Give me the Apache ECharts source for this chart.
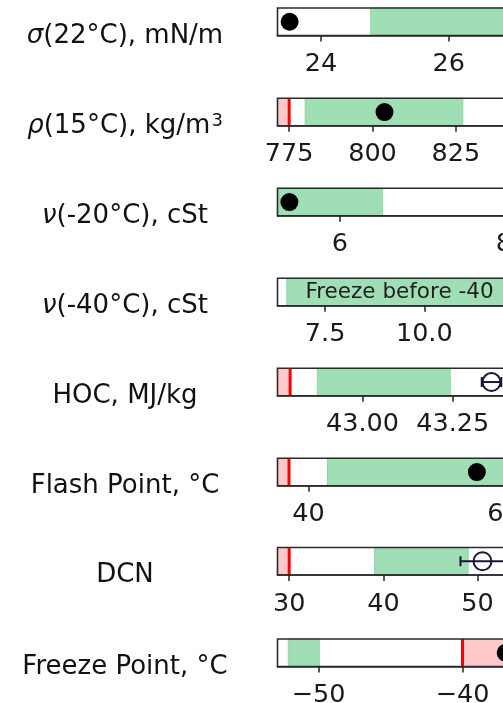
<!DOCTYPE html>
<html><head><meta charset="utf-8">
<script src="https://cdn.jsdelivr.net/npm/echarts@6/dist/echarts.min.js"></script>
<style>html,body{margin:0;padding:0;background:#fff}#c{width:503px;height:703px}</style>
</head><body><div id="c"></div>
<script>
// ---- data ----
const rowLabels = ['{i|σ}(22°C), mN/m', '{i|ρ}(15°C), kg/m{s|3}', '{i|ν}(-20°C), cSt', '{i|ν}(-40°C), cSt',
  'HOC, MJ/kg', 'Flash Point, °C', 'DCN', 'Freeze Point, °C'];
const axisMin = [23.32, 771.5, 5.24, 6.30, 42.765, 36.82, 28.76, -52.85];
const axisMax = [27.14, 844.7, 8.216, 12.45, 43.44, 61.85, 54.66, -35.9];
const tickValues = [[24, 26], [775, 800, 825], [6, 8], [7.5, 10], [43.0, 43.25], [40, 60], [30, 40, 50], [-50, -40]];
const tickDecimals = [0, 0, 0, 1, 2, 0, 0, 0];
const greenRanges = [[24.78, 27.14], [779.8, 827.1], [5.24, 6.52], [6.535, 12.45], [42.875, 43.243], [41.95, 61.85], [39.07, 49.0], [-52.1, -49.95]];
const pinkRanges = [null, [771.5, 775], null, null, [42.765, 42.8], [36.82, 38], [28.76, 30], [-40, -35.9]];
const redLimits = [null, 775, null, null, 42.8, 38, 30, -40];
const filledPoints = [23.51, 803.6, 5.385, null, null, 57.27, null, -37.0];
const openPoints = [null, null, null, null, 43.357, null, 50.52, null];
const errLow = [null, null, null, null, 43.33, null, 48.18, null];
const errHigh = [null, null, null, null, 43.384, null, 52.86, null];
const overlayText = [null, null, null, 'Freeze before -40', null, null, null, null];

// ---- layout ----
const gridTops = [8, 98.3, 188.3, 278.3, 368.3, 458.3, 547.5, 639];
const GRID_LEFT = 277.5, GRID_W = 244, GRID_H = 27.5;
const FONT = 'DejaVu Sans';
const GREEN = '#a0deb6', PINK = '#ffc9c9', RED = '#ff0000', NAVY = '#16163c';

const grids = [], xAxes = [], yAxes = [], series = [], graphics = [];

function regionItem(fill, stroke) {
  return function (params, api) {
    const cs = params.coordSys;
    const a = api.coord([api.value(0), 0])[0], b = api.coord([api.value(1), 0])[0];
    const x0 = Math.max(Math.min(a, b), cs.x), x1 = Math.min(Math.max(a, b), cs.x + cs.width);
    if (x1 <= x0) return null;
    return { type: 'rect', shape: { x: x0, y: cs.y, width: x1 - x0, height: cs.height },
      style: { fill: fill, stroke: stroke, lineWidth: stroke ? 1 : 0 } };
  };
}

for (let i = 0; i < 8; i++) {
  grids.push({ left: GRID_LEFT, top: gridTops[i], width: GRID_W, height: GRID_H, show: true,
    containLabel: false, outerBoundsMode: 'none',
    borderColor: '#2b2b2b', borderWidth: 1.6, backgroundColor: 'transparent', z: 10 });
  const dec = tickDecimals[i];
  xAxes.push({ type: 'value', gridIndex: i, min: axisMin[i], max: axisMax[i], position: 'bottom', z: 11,
    axisLine: { show: true, onZero: false, lineStyle: { color: '#2b2b2b', width: 1.6 } }, splitLine: { show: false },
    axisTick: { show: true, inside: false, customValues: tickValues[i], length: 6, lineStyle: { color: '#222', width: 1.5 } },
    axisLabel: { show: true, customValues: tickValues[i], margin: 16, fontSize: 25.5, fontFamily: FONT, color: '#1a1a1a',
      formatter: v => Number(v).toFixed(dec).replace('-', '\u2212') } });
  yAxes.push({ type: 'value', gridIndex: i, min: -1, max: 1, show: false });

  if (pinkRanges[i]) series.push({ type: 'custom', xAxisIndex: i, yAxisIndex: i, renderItem: regionItem(PINK, null),
    data: [pinkRanges[i]], silent: true });
  if (greenRanges[i]) series.push({ type: 'custom', xAxisIndex: i, yAxisIndex: i, renderItem: regionItem(GREEN, '#92d6aa'),
    data: [greenRanges[i]], silent: true });
  if (redLimits[i] !== null) series.push({ type: 'custom', xAxisIndex: i, yAxisIndex: i, silent: true,
    data: [[redLimits[i]]],
    renderItem: function (params, api) {
      const cs = params.coordSys; const x = api.coord([api.value(0), 0])[0];
      return { type: 'line', shape: { x1: x, y1: cs.y, x2: x, y2: cs.y + cs.height }, style: { stroke: RED, lineWidth: 3 } };
    } });
  if (errLow[i] !== null) series.push({ type: 'custom', xAxisIndex: i, yAxisIndex: i, silent: true,
    data: [[errLow[i], errHigh[i]]],
    renderItem: function (params, api) {
      const p0 = api.coord([api.value(0), 0]), p1 = api.coord([api.value(1), 0]);
      const st = { stroke: NAVY, lineWidth: 2 };
      return { type: 'group', children: [
        { type: 'line', shape: { x1: p0[0], y1: p0[1], x2: p1[0], y2: p1[1] }, style: st },
        { type: 'line', shape: { x1: p0[0], y1: p0[1] - 5, x2: p0[0], y2: p0[1] + 5 }, style: st },
        { type: 'line', shape: { x1: p1[0], y1: p1[1] - 5, x2: p1[0], y2: p1[1] + 5 }, style: st }
      ] };
    } });
  if (filledPoints[i] !== null) series.push({ type: 'scatter', xAxisIndex: i, yAxisIndex: i, silent: true,
    symbol: 'circle', symbolSize: 18, itemStyle: { color: '#000', opacity: 1 }, data: [[filledPoints[i], 0]] });
  if (openPoints[i] !== null) series.push({ type: 'scatter', xAxisIndex: i, yAxisIndex: i, silent: true,
    symbol: 'circle', symbolSize: 18, itemStyle: { color: 'rgba(0,0,0,0)', borderColor: NAVY, borderWidth: 2, opacity: 1 },
    data: [[openPoints[i], 0]] });

  graphics.push({ type: 'text', x: 125, y: gridTops[i] + GRID_H / 2 + 14, silent: true,
    style: { text: rowLabels[i], fontSize: 26, fontFamily: FONT, fill: '#111', align: 'center', verticalAlign: 'middle',
      rich: { i: { fontStyle: 'italic', fontSize: 26, fontFamily: FONT, fill: '#111' },
              s: { fontSize: 18, fontFamily: FONT, fill: '#111', verticalAlign: 'top', padding: [0, 0, 10, 1] } } } });
  if (overlayText[i]) graphics.push({ type: 'text', x: GRID_LEFT + GRID_W / 2, y: gridTops[i] + GRID_H / 2, silent: true, z: 20,
    style: { text: overlayText[i], fontSize: 21.5, fontFamily: FONT, fill: '#1e1e1e', align: 'center', verticalAlign: 'middle' } });
}

const chart = echarts.init(document.getElementById('c'), null, { renderer: 'canvas' });
chart.setOption({ animation: false, backgroundColor: '#fff', grid: grids, xAxis: xAxes, yAxis: yAxes, series: series, graphic: graphics });
</script></body></html>
